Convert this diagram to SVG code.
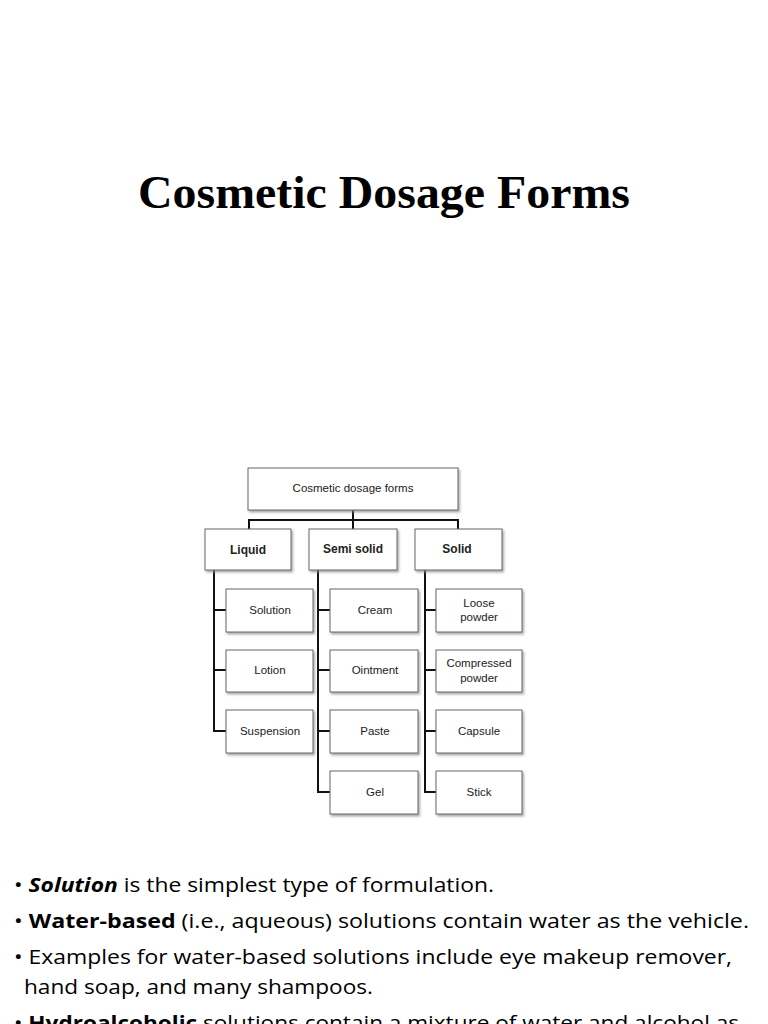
<svg xmlns="http://www.w3.org/2000/svg" width="768" height="1024" viewBox="0 0 768 1024">
<style>
.b{fill:#fff;stroke:#666;stroke-width:1;filter:url(#sh)}
.t{font-family:"Liberation Sans",Arial,sans-serif;font-size:11.5px;fill:#222;text-anchor:middle}
.h{font-weight:bold;font-size:12px}
.c{stroke:#111;stroke-width:2;fill:none}
.p{font-family:"Open Sans","Liberation Sans",sans-serif;font-size:20px;fill:#000}
</style>
<defs><filter id="sh" x="-10%" y="-10%" width="130%" height="140%"><feDropShadow dx="1.5" dy="2" stdDeviation="1" flood-color="#888" flood-opacity="0.7"/></filter></defs>
<rect width="768" height="1024" fill="#fff"/>
<text x="384" y="208" font-family="Liberation Serif,serif" font-size="47" font-weight="bold" text-anchor="middle" textLength="492" lengthAdjust="spacingAndGlyphs">Cosmetic Dosage Forms</text>
<g id="connectors">
<path class="c" d="M353 510V520M249 529V520H458V529M353 520V529"/>
<path class="c" d="M214 570V731H226M214 610H226M214 670H226"/>
<path class="c" d="M318 570V792H330M318 610H330M318 670H330M318 731H330"/>
<path class="c" d="M425 570V792H436M425 610H436M425 670H436M425 731H436"/>
</g>
<g id="root"><rect class="b" x="248" y="468" width="210" height="42"/><text class="t" x="353" y="492">Cosmetic dosage forms</text></g>
<g id="liquid"><rect class="b" x="205" y="529" width="86" height="41"/><text class="t h" x="248" y="554">Liquid</text></g>
<g id="semisolid"><rect class="b" x="309" y="529" width="88" height="41"/><text class="t h" x="353" y="553">Semi solid</text></g>
<g id="solid"><rect class="b" x="415" y="529" width="87" height="41"/><text class="t h" x="457" y="553">Solid</text></g>
<g id="solution"><rect class="b" x="226" y="589" width="87" height="43"/><text class="t" x="270" y="614">Solution</text></g>
<g id="lotion"><rect class="b" x="226" y="650" width="87" height="42"/><text class="t" x="270" y="674">Lotion</text></g>
<g id="suspension"><rect class="b" x="226" y="710" width="87" height="43"/><text class="t" x="270" y="735">Suspension</text></g>
<g id="cream"><rect class="b" x="330" y="589" width="88" height="43"/><text class="t" x="375" y="614">Cream</text></g>
<g id="ointment"><rect class="b" x="330" y="650" width="88" height="42"/><text class="t" x="375" y="674">Ointment</text></g>
<g id="paste"><rect class="b" x="330" y="710" width="88" height="43"/><text class="t" x="375" y="735">Paste</text></g>
<g id="gel"><rect class="b" x="330" y="771" width="88" height="43"/><text class="t" x="375" y="796">Gel</text></g>
<g id="loose"><rect class="b" x="436" y="589" width="86" height="43"/><text class="t" x="479" y="607">Loose</text><text class="t" x="479" y="621">powder</text></g>
<g id="compressed"><rect class="b" x="436" y="650" width="86" height="42"/><text class="t" x="479" y="667">Compressed</text><text class="t" x="479" y="682">powder</text></g>
<g id="capsule"><rect class="b" x="436" y="710" width="86" height="43"/><text class="t" x="479" y="735">Capsule</text></g>
<g id="stick"><rect class="b" x="436" y="771" width="86" height="43"/><text class="t" x="479" y="796">Stick</text></g>
<text class="p" x="14" y="892" textLength="480" lengthAdjust="spacingAndGlyphs">• <tspan font-weight="bold" font-style="italic">Solution</tspan> is the simplest type of formulation.</text>
<text class="p" x="14" y="928" textLength="735" lengthAdjust="spacingAndGlyphs">• <tspan font-weight="bold">Water-based</tspan> (i.e., aqueous) solutions contain water as the vehicle.</text>
<text class="p" x="14" y="964" textLength="718" lengthAdjust="spacingAndGlyphs">• Examples for water-based solutions include eye makeup remover,</text>
<text class="p" x="24" y="994" textLength="349" lengthAdjust="spacingAndGlyphs">hand soap, and many shampoos.</text>
<text class="p" x="14" y="1030" textLength="725" lengthAdjust="spacingAndGlyphs">• <tspan font-weight="bold">Hydroalcoholic</tspan> solutions contain a mixture of water and alcohol as</text>
</svg>
